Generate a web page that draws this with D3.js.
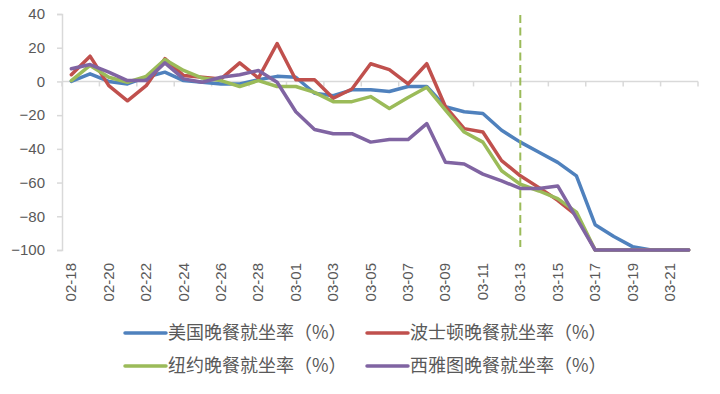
<!DOCTYPE html>
<html>
<head>
<meta charset="utf-8">
<script src="https://cdn.jsdelivr.net/npm/d3@7"></script>
<style>
  body { margin: 0; background: #fff; }
  svg { display: block; }
</style>
</head>
<body>
<div id="chart"></div>
<script>
// dates 02-18 .. 03-22
const dates = ["02-18","02-19","02-20","02-21","02-22","02-23","02-24","02-25","02-26","02-27","02-28","02-29",
  "03-01","03-02","03-03","03-04","03-05","03-06","03-07","03-08","03-09","03-10","03-11","03-12","03-13",
  "03-14","03-15","03-16","03-17","03-18","03-19","03-20","03-21","03-22"];

const usa = [0, 4.5, 0, -1.5, 2.5, 5.5, 0.5, -0.5, -1.5, -1.5, 1, 3, 2.5, -7, -8.5, -5, -5, -6, -3, -3,
  -15, -18, -19, -29, -36, -42, -48, -56, -85, -92, -98, -100, -100, -100];
const boston = [4, 15, -2.5, -11.5, -2.5, 13.5, 3.5, 2.5, 1.5, 11, 2, 22.5, 1, 1, -10, -4.5, 10.5, 7, -1.5, 10.5,
  -15, -28, -30, -47, -56, -63, -70.5, -79.5, -100, -100, -100, -100, -100, -100];
const newYork = [0.5, 9.5, 2.5, -0.5, 3, 13, 6.5, 2, 0.5, -3, 0.5, -3, -3, -6.5, -12, -12, -9, -16, -9.5, -3.5,
  -17, -30, -36, -53, -61, -65, -69.5, -77.5, -100, -100, -100, -100, -100, -100];
const seattle = [7.5, 10, 5.5, 0.5, 0.5, 11, 1.5, -0.5, 2.5, 4, 6.5, -0.5, -18, -28.5, -31, -31, -36, -34.5, -34.5, -25,
  -48, -49, -55, -59, -63.5, -63.5, -62, -81, -100, -100, -100, -100, -100, -100];

const seriesNames = ["美国晚餐就坐率（%）", "波士顿晚餐就坐率（%）", "纽约晚餐就坐率（%）", "西雅图晚餐就坐率（%）"];
const yTicks = [40, 20, 0, -20, -40, -60, -80, -100];
const markDate = "03-13";

const colors = ["#4f81bd", "#c0504d", "#9bbb59", "#8064a2"];
const allSeries = [usa, boston, newYork, seattle];

const W = 720, H = 394;
const plotLeft = 62, plotRight = 698, plotTop = 14, plotBottom = 250;
const numFont = "'Liberation Sans', Arial, sans-serif";
const cjkFont = "'Noto Sans CJK SC', sans-serif";

const svg = d3.select("#chart").append("svg")
    .attr("width", W)
    .attr("height", H);

const x = d3.scaleBand().domain(dates).range([plotLeft, plotRight]).padding(0);
const xc = (d) => x(d) + x.bandwidth() / 2;
const y = d3.scaleLinear().domain([-100, 40]).range([plotBottom, plotTop]);

// y axis
const yAxis = d3.axisLeft(y).tickValues(yTicks).tickSize(5).tickPadding(12);
const gy = svg.append("g")
    .attr("transform", "translate(" + plotLeft + ",0)")
    .call(yAxis);
gy.select(".domain").attr("stroke", "#d9d9d9").attr("stroke-width", 1.5);
gy.selectAll(".tick line").attr("stroke", "#d9d9d9").attr("stroke-width", 1.5);
gy.selectAll(".tick text")
    .attr("fill", "#595959")
    .style("font-family", numFont)
    .style("font-size", "15px");

// x axis line at zero with ticks every two days
const boundaries = dates.filter((d, i) => i % 2 === 0).map((d) => x(d)).concat([plotRight]);
const gx = svg.append("g");
gx.append("line")
    .attr("x1", plotLeft).attr("x2", plotRight)
    .attr("y1", y(0)).attr("y2", y(0))
    .attr("stroke", "#d9d9d9").attr("stroke-width", 1.5);
gx.selectAll("line.tick")
    .data(boundaries)
    .enter()
    .append("line")
    .attr("class", "tick")
    .attr("x1", (d) => d).attr("x2", (d) => d)
    .attr("y1", y(0)).attr("y2", y(0) + 5)
    .attr("stroke", "#d9d9d9").attr("stroke-width", 1.5);

// x labels at bottom, rotated
svg.append("g").selectAll("text")
    .data(dates.filter((d, i) => i % 2 === 0))
    .enter()
    .append("text")
    .attr("transform", (d) => "translate(" + (xc(d) + 5) + "," + (plotBottom + 13) + ") rotate(-90)")
    .attr("text-anchor", "end")
    .attr("fill", "#595959")
    .style("font-family", numFont)
    .style("font-size", "15px")
    .text((d) => d);

// lines
const line = d3.line()
    .x((d, i) => xc(dates[i]))
    .y((d) => y(d));

svg.selectAll("path.series")
    .data(allSeries)
    .enter()
    .append("path")
    .attr("class", "series")
    .attr("d", (d) => line(d))
    .attr("fill", "none")
    .attr("stroke", (d, i) => colors[i])
    .attr("stroke-width", 3.5)
    .attr("stroke-linejoin", "round")
    .attr("stroke-linecap", "round");

// dashed marker
svg.append("line")
    .attr("x1", xc(markDate)).attr("x2", xc(markDate))
    .attr("y1", plotTop + 1).attr("y2", plotBottom - 3)
    .attr("stroke", "#9bbb59")
    .attr("stroke-width", 2)
    .attr("stroke-dasharray", "8,4.5");

// legend
const legendPos = [[125, 333], [367, 333], [125, 366], [367, 366]];
const lg = svg.append("g").selectAll("g")
    .data(seriesNames)
    .enter()
    .append("g")
    .attr("transform", (d, i) => "translate(" + legendPos[i][0] + "," + legendPos[i][1] + ")");
lg.append("line")
    .attr("x1", 0).attr("x2", 41)
    .attr("stroke", (d, i) => colors[i])
    .attr("stroke-width", 3.5)
    .attr("stroke-linecap", "round");
lg.append("text")
    .attr("x", 43)
    .attr("dy", "0.35em")
    .attr("fill", "#595959")
    .style("font-family", cjkFont)
    .style("font-size", "18px")
    .text((d) => d);
</script>
</body>
</html>
